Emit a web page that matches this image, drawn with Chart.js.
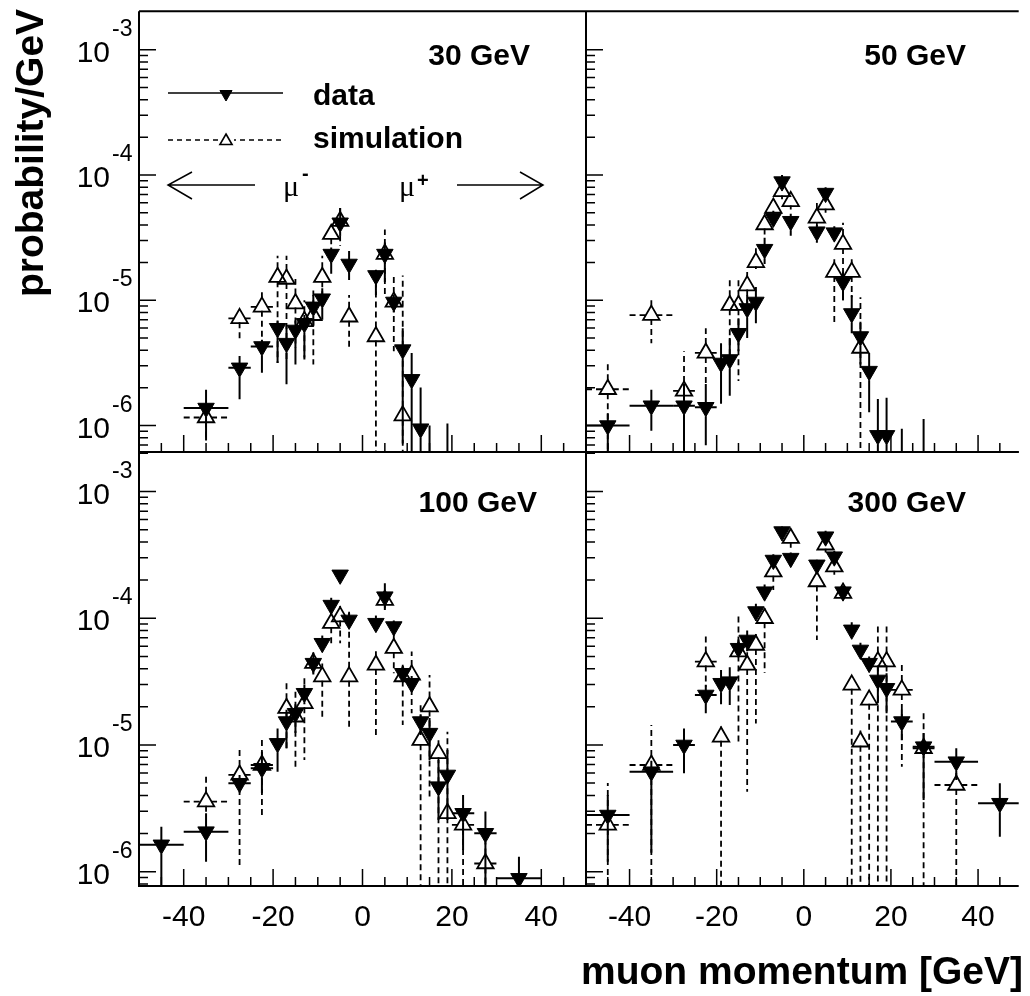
<!DOCTYPE html>
<html>
<head>
<meta charset="utf-8">
<script src="https://cdn.jsdelivr.net/npm/chart.js@4.4.1/dist/chart.umd.min.js"></script>
<style>
  html, body { margin: 0; padding: 0; background: #fff; }
  #page { position: relative; width: 1030px; height: 996px; overflow: hidden; background: #fff; }
  #page canvas { position: absolute; left: 0; top: 0; }
</style>
</head>
<body>
<div id="page">
  <canvas id="c30" width="1030" height="996"></canvas>
  <canvas id="c50" width="1030" height="996"></canvas>
  <canvas id="c100" width="1030" height="996"></canvas>
  <canvas id="c300" width="1030" height="996"></canvas>
</div>
<script>
// ===== Data (x = bin centre in GeV, y = probability/GeV) =====

// 30 GeV
const xD30  = [-35, -27.5, -22.5, -19, -17, -15, -13, -11, -9, -7, -5, -3, 3, 5, 7, 9, 11, 13, 15, 19];
const yD30  = [1.38e-6, 2.89e-6, 4.28e-6, 5.98e-6, 4.55e-6, 5.8e-6, 6.55e-6, 8.87e-6, 1.03e-5, 2.34e-5, 4.16e-5, 1.95e-5, 1.58e-5, 2.34e-5, 9.7e-6, 4.04e-6, 2.34e-6, 9.44e-7, 3e-7, 3e-7];
const exD30 = [5, 2.5, 2.5, 1, 1, 1, 1, 1, 1, 1, 1, 1, 1, 1, 1, 1, 1, 1, 1, 1];
const loD30 = [7.6e-7, 1.62e-6, 2.64e-6, 3.16e-6, 2.14e-6, 3.07e-6, 3.37e-6, 6.2e-6, 7.0e-6, 1.63e-5, 3.27e-5, 1.45e-5, 1.1e-5, 1.4e-5, 8.0e-6, 7.2e-7, 5e-7, 1e-7, 1e-7, 1e-7];
const hiD30 = [1.93e-6, 3.6e-6, 4.84e-6, 6.9e-6, 6.35e-6, 6.9e-6, 7.62e-6, 1.1e-5, 1.25e-5, 2.64e-5, 5.46e-5, 2.48e-5, 1.75e-5, 2.9e-5, 1.1e-5, 5.98e-6, 3.8e-6, 2.01e-6, 1.0e-6, 1.04e-6];

const xS30  = [-35, -27.5, -22.5, -19, -17, -15, -13, -11, -9, -7, -5, -3, 3, 5, 7, 9];
const yS30  = [1.16e-6, 7.18e-6, 8.87e-6, 1.53e-5, 1.48e-5, 9.42e-6, 6.8e-6, 7.6e-6, 1.53e-5, 3.37e-5, 4.28e-5, 7.39e-6, 5.14e-6, 2.34e-5, 9.7e-6, 1.2e-6];
const exS30 = [5, 2.5, 2.5, 1, 1, 1, 1, 1, 1, 1, 1, 1, 1, 1, 1, 1];
const loS30 = [7.6e-7, 4.7e-6, 3.92e-6, 3.16e-6, 3.27e-6, 4.16e-6, 3.5e-6, 3.07e-6, 1.0e-5, 2.6e-5, 2.72e-5, 4.16e-6, 1e-7, 1.1e-5, 3.92e-6, 1e-7];
const hiS30 = [1.5e-6, 8.5e-6, 1.16e-5, 2.27e-5, 2.27e-5, 1.48e-5, 1.0e-5, 1.2e-5, 2.27e-5, 3.9e-5, 5.46e-5, 1.1e-5, 1.4e-5, 3.68e-5, 1.63e-5, 1.58e-5];

// 50 GeV
const xD50  = [-45, -35, -27.5, -22.5, -19, -17, -15, -13, -11, -9, -7, -5, -3, 3, 5, 7, 9, 11, 13, 15, 17, 19, 22.5, 27.5];
const yD50  = [1.0e-6, 1.44e-6, 1.44e-6, 1.4e-6, 3.16e-6, 3.37e-6, 5.46e-6, 8.61e-6, 9.7e-6, 2.56e-5, 4.55e-5, 8.87e-5, 4.28e-5, 3.53e-5, 7.18e-5, 3.47e-5, 1.4e-5, 7.85e-6, 5.14e-6, 2.72e-6, 8.35e-7, 8.35e-7, 3e-7, 4e-7];
const exD50 = [5, 5, 2.5, 2.5, 1, 1, 1, 1, 1, 1, 1, 1, 1, 1, 1, 1, 1, 1, 1, 1, 1, 1, 2.5, 2.5];
const loD50 = [1e-7, 9.1e-7, 1e-7, 6.97e-7, 1.49e-6, 1.73e-6, 3.92e-6, 4.99e-6, 6.55e-6, 1.95e-5, 3.9e-5, 7.7e-5, 3.27e-5, 2.88e-5, 6.4e-5, 3.0e-5, 1.0e-5, 5.46e-6, 3.07e-6, 1.28e-6, 1e-7, 1e-7, 1e-7, 1e-7];
const hiD50 = [1.25e-6, 1.93e-6, 2.15e-6, 2.15e-6, 4.55e-6, 4.99e-6, 7.18e-6, 1.1e-5, 1.28e-5, 3.16e-5, 5.2e-5, 1.0e-4, 4.9e-5, 4.0e-5, 8.0e-5, 3.9e-5, 1.7e-5, 1.1e-5, 6.74e-6, 3.8e-6, 1.63e-6, 1.67e-6, 9.44e-7, 1.13e-6];

const xS50  = [-45, -35, -27.5, -22.5, -17, -15, -13, -11, -9, -7, -5, -3, 3, 5, 7, 9, 11, 13];
const yS50  = [1.95e-6, 7.62e-6, 1.89e-6, 3.8e-6, 9.14e-6, 9.14e-6, 1.31e-5, 2.01e-5, 4.03e-5, 5.46e-5, 7.4e-5, 6.16e-5, 4.55e-5, 5.8e-5, 1.68e-5, 2.81e-5, 1.68e-5, 4.16e-6];
const exS50 = [5, 5, 2.5, 2.5, 1, 1, 1, 1, 1, 1, 1, 1, 1, 1, 1, 1, 1, 1];
const loS50 = [1e-7, 4.55e-6, 1e-7, 2.15e-6, 3.5e-6, 2.27e-6, 9e-6, 1.78e-5, 3.3e-5, 4.8e-5, 6.4e-5, 5.3e-5, 3.9e-5, 5e-5, 6.55e-6, 1.0e-5, 1.06e-5, 1e-7];
const hiS50 = [3.16e-6, 1.0e-5, 3.92e-6, 5.98e-6, 1.48e-5, 1.48e-5, 1.68e-5, 2.6e-5, 4.8e-5, 6.2e-5, 8.5e-5, 7e-5, 5.98e-5, 6.7e-5, 2.13e-5, 4.16e-5, 2.13e-5, 1.06e-5];

// 100 GeV
const xD100  = [-45, -35, -27.5, -22.5, -19, -17, -15, -13, -11, -9, -7, -5, -3, 3, 5, 7, 9, 11, 13, 15, 17, 19, 22.5, 27.5, 35];
const yD100  = [1.63e-6, 2.07e-6, 4.99e-6, 6.55e-6, 1.03e-5, 1.53e-5, 1.78e-5, 2.56e-5, 4.42e-5, 6.35e-5, 1.27e-4, 2.2e-4, 9.7e-5, 9.14e-5, 1.48e-4, 8.6e-5, 3.68e-5, 3.07e-5, 1.53e-5, 1.24e-5, 4.69e-6, 5.8e-6, 2.89e-6, 2.01e-6, 8.87e-7];
const exD100 = [5, 5, 2.5, 2.5, 1, 1, 1, 1, 1, 1, 1, 1, 1, 1, 1, 1, 1, 1, 1, 1, 1, 1, 2.5, 2.5, 5];
const loD100 = [1e-7, 1.2e-6, 4.2e-6, 4.16e-6, 6.15e-6, 9.42e-6, 1.24e-5, 2.1e-5, 3.6e-5, 5.4e-5, 1.1e-4, 1.95e-4, 8.5e-5, 8e-5, 1.16e-4, 7.6e-5, 3.2e-5, 2.7e-5, 1.2e-5, 7.62e-6, 2.56e-6, 2.56e-6, 1.48e-6, 1e-7, 1e-7];
const hiD100 = [2.26e-6, 2.89e-6, 5.8e-6, 8.85e-6, 1.35e-5, 1.9e-5, 2.1e-5, 3.0e-5, 5.3e-5, 7.3e-5, 1.45e-4, 2.4e-4, 1.1e-4, 1.05e-4, 1.89e-4, 9.6e-5, 4.2e-5, 3.5e-5, 1.75e-5, 1.63e-5, 7.62e-6, 9.14e-6, 4.03e-6, 2.98e-6, 1.31e-6];

const xS100  = [-35, -27.5, -22.5, -17, -15, -13, -11, -9, -7, -5, -3, 3, 5, 7, 9, 11, 13, 15, 17, 19, 22.5, 27.5];
const yS100  = [3.57e-6, 5.8e-6, 6.95e-6, 1.95e-5, 1.67e-5, 2.13e-5, 4.42e-5, 3.46e-5, 9.14e-5, 1.03e-4, 3.46e-5, 4.28e-5, 1.39e-4, 5.8e-5, 3.47e-5, 3.57e-5, 1.09e-5, 2.01e-5, 8.59e-6, 2.89e-6, 2.34e-6, 1.16e-6];
const exS100 = [5, 2.5, 2.5, 1, 1, 1, 1, 1, 1, 1, 1, 1, 1, 1, 1, 1, 1, 1, 1, 1, 2.5, 2.5];
const loS100 = [2.9e-6, 1.1e-6, 2.62e-6, 9.14e-6, 6.55e-6, 7.62e-6, 3.6e-5, 1.67e-5, 5.97e-5, 6.35e-5, 1.31e-5, 1.2e-5, 1.2e-4, 3.68e-5, 1.44e-5, 1.78e-5, 1e-7, 3.92e-6, 1e-7, 1e-7, 1e-7, 1e-7];
const hiS100 = [5.8e-6, 9.7e-6, 1.13e-5, 3.07e-5, 2.72e-5, 3.46e-5, 5.4e-5, 4.4e-5, 1.1e-4, 1.25e-4, 1.13e-4, 5.5e-5, 1.6e-4, 9.7e-5, 4.3e-5, 5.46e-5, 2.13e-5, 3.57e-5, 1.09e-5, 1.27e-5, 2.7e-6, 1.72e-6];

// 300 GeV
const xD300  = [-45, -35, -27.5, -22.5, -19, -17, -15, -13, -11, -9, -7, -5, -3, 3, 5, 7, 9, 11, 13, 15, 17, 19, 22.5, 27.5, 35, 45];
const yD300  = [2.8e-6, 6.15e-6, 1.0e-5, 2.48e-5, 3.07e-5, 3.16e-5, 5.8e-5, 6.74e-5, 1.13e-4, 1.62e-4, 2.88e-4, 4.83e-4, 2.98e-4, 2.64e-4, 4.4e-4, 3.06e-4, 1.62e-4, 8.1e-5, 5.62e-5, 4.42e-5, 3.26e-5, 2.8e-5, 1.53e-5, 9.7e-6, 7.38e-6, 3.47e-6];
const exD300 = [5, 5, 2.5, 2.5, 1, 1, 1, 1, 1, 1, 1, 1, 1, 1, 1, 1, 1, 1, 1, 1, 1, 1, 2.5, 2.5, 5, 5];
const loD300 = [1.2e-6, 1.41e-6, 5.98e-6, 1.78e-5, 2.1e-5, 2.07e-5, 4.9e-5, 5.5e-5, 9.5e-5, 1.4e-4, 2.6e-4, 4.4e-4, 2.7e-4, 2.4e-4, 4.0e-4, 2.8e-4, 1.45e-4, 7e-5, 4.9e-5, 3.9e-5, 2.13e-5, 1.78e-5, 1.09e-5, 3.68e-6, 5.3e-6, 1.89e-6];
const hiD300 = [4.03e-6, 7.5e-6, 1.35e-5, 2.98e-5, 3.91e-5, 4.1e-5, 6.8e-5, 8e-5, 1.3e-4, 1.85e-4, 3.2e-4, 5.3e-4, 3.3e-4, 2.9e-4, 4.9e-4, 3.4e-4, 1.8e-4, 9.3e-5, 6.4e-5, 5e-5, 4.15e-5, 3.68e-5, 1.9e-5, 1.24e-5, 9.42e-6, 4.99e-6];

const xS300  = [-45, -35, -22.5, -19, -15, -13, -11, -9, -7, -3, 3, 5, 7, 9, 11, 13, 15, 17, 19, 22.5, 27.5, 35];
const yS300  = [2.34e-6, 6.95e-6, 4.55e-5, 1.16e-5, 5.46e-5, 4.28e-5, 6.15e-5, 1.0e-4, 2.33e-4, 4.28e-4, 1.95e-4, 3.8e-4, 2.55e-4, 1.58e-4, 2.98e-5, 1.06e-5, 2.27e-5, 4.55e-5, 4.55e-5, 2.72e-5, 9.42e-6, 4.83e-6];
const exS300 = [5, 5, 2.5, 1, 1, 1, 1, 1, 1, 1, 1, 1, 1, 1, 1, 1, 1, 1, 1, 2.5, 2.5, 5];
const loS300 = [1e-7, 1e-7, 2.88e-5, 1e-7, 1.06e-5, 4.28e-6, 1.48e-5, 3.7e-5, 1.67e-4, 3.6e-4, 6.74e-5, 3.3e-4, 2.2e-4, 1.4e-4, 1e-7, 1e-7, 1e-7, 1e-7, 1e-7, 6.74e-6, 1e-7, 1e-7];
const hiS300 = [5e-6, 1.44e-5, 7.4e-5, 1.4e-5, 1.03e-4, 5.4e-5, 7.5e-5, 1.2e-4, 2.7e-4, 4.9e-4, 2.3e-4, 4.3e-4, 2.9e-4, 1.8e-4, 3.5e-5, 1.3e-5, 2.7e-5, 9.14e-5, 9.14e-5, 4.42e-5, 1.89e-5, 6e-6];

// ===== Axis ticks and labels =====
const xTickValues = [-45, -40, -35, -30, -25, -20, -15, -10, -5, 0, 5, 10, 15, 20, 25, 30, 35, 40, 45];
const xLabelValues = [-40, -20, 0, 20, 40];
const xLabelText = ['-40', '-20', '0', '20', '40'];
const yLabelValues = [1e-3, 1e-4, 1e-5, 1e-6];
const yLabelExp = ['-3', '-4', '-5', '-6'];
const energyLabels = ['30 GeV', '50 GeV', '100 GeV', '300 GeV'];

const FONT = "'Liberation Sans', Arial, Helvetica, sans-serif";

// ===== Error bars (drawn under the markers, with a gap round the marker) =====
const errorBars = {
  id: 'errorBars',
  beforeDatasetsDraw(chart) {
    const ctx = chart.ctx, a = chart.chartArea;
    const xs = chart.scales.x, ys = chart.scales.y;
    ctx.save();
    ctx.beginPath();
    ctx.rect(a.left, a.top, a.right - a.left, a.bottom - a.top);
    ctx.clip();
    chart.data.datasets.forEach(ds => {
      ctx.strokeStyle = '#000';
      ctx.lineWidth = ds.errWidth;
      ctx.setLineDash(ds.errDash);
      const g = ds.gap;
      ds.data.forEach((p, i) => {
        const px = xs.getPixelForValue(p.x);
        const py = ys.getPixelForValue(p.y);
        const x0 = xs.getPixelForValue(p.x - ds.xErr[i]);
        const x1 = xs.getPixelForValue(p.x + ds.xErr[i]);
        const yHi = ys.getPixelForValue(ds.yHi[i]);
        const yLo = ys.getPixelForValue(ds.yLo[i]);
        ctx.beginPath();
        if (x0 < px - g.x) { ctx.moveTo(x0, py); ctx.lineTo(px - g.x, py); }
        if (x1 > px + g.x) { ctx.moveTo(px + g.x, py); ctx.lineTo(x1, py); }
        if (yHi < py - g.up) { ctx.moveTo(px, py - g.up); ctx.lineTo(px, yHi); }
        if (yLo > py + g.down) { ctx.moveTo(px, py + g.down); ctx.lineTo(px, yLo); }
        ctx.stroke();
      });
    });
    ctx.restore();
  }
};

function drawMarker(ctx, filled, x, y, r) {
  ctx.save();
  ctx.fillStyle = filled ? '#000' : 'rgba(0,0,0,0)';
  ctx.strokeStyle = '#000';
  ctx.lineWidth = filled ? 1 : 1.6;
  Chart.helpers.drawPoint(ctx, {
    pointStyle: 'triangle', rotation: filled ? 180 : 0, radius: r, borderWidth: ctx.lineWidth
  }, x, y);
  ctx.restore();
}

// ===== Frame, ticks, labels =====
function makeAxes(p) {
  return {
    id: 'axes',
    afterDraw(chart) {
      const ctx = chart.ctx, a = chart.chartArea;
      const xs = chart.scales.x, ys = chart.scales.y;
      ctx.save();
      ctx.strokeStyle = '#000';
      ctx.fillStyle = '#000';
      ctx.setLineDash([]);

      // ticks
      ctx.lineWidth = 1.5;
      ctx.beginPath();
      xTickValues.forEach(v => {
        const px = xs.getPixelForValue(v);
        if (px <= a.left + 1 || px >= a.right - 1) return;
        const len = xLabelValues.includes(v) ? 17 : 9;
        ctx.moveTo(px, a.bottom);
        ctx.lineTo(px, a.bottom - len);
      });
      for (let e = -7; e <= -2; e++) {
        for (let m = 1; m <= 9; m++) {
          const py = ys.getPixelForValue(m * Math.pow(10, e));
          if (py <= a.top + 1 || py >= a.bottom - 1) continue;
          ctx.moveTo(a.left, py);
          ctx.lineTo(a.left + (m === 1 ? 17 : 9), py);
        }
      }
      ctx.stroke();

      // frame
      ctx.lineWidth = 2;
      ctx.beginPath();
      ctx.moveTo(a.left, a.top);
      ctx.lineTo(a.left, a.bottom);
      ctx.lineTo(a.right, a.bottom);
      ctx.moveTo(a.left, a.top);
      ctx.lineTo(a.right, a.top);
      if (p.rightLine) {
        ctx.moveTo(a.right, a.top);
        ctx.lineTo(a.right, a.bottom);
      }
      ctx.stroke();

      // y labels 10^n
      if (p.yLabels) {
        yLabelValues.forEach((v, i) => {
          const py = ys.getPixelForValue(v);
          ctx.textBaseline = 'alphabetic';
          ctx.textAlign = 'right';
          ctx.font = '30px ' + FONT;
          ctx.fillText('10', 110, py + 12);
          ctx.textAlign = 'left';
          ctx.font = '23px ' + FONT;
          ctx.fillText(yLabelExp[i], 112, py - 14);
        });
      }

      // x labels
      if (p.xLabels) {
        ctx.textAlign = 'center';
        ctx.textBaseline = 'alphabetic';
        ctx.font = '30px ' + FONT;
        xLabelValues.forEach((v, i) => {
          ctx.fillText(xLabelText[i], xs.getPixelForValue(v), 926);
        });
      }

      // energy label
      ctx.textAlign = 'right';
      ctx.textBaseline = 'alphabetic';
      ctx.font = 'bold 30px ' + FONT;
      ctx.fillText(p.label, p.labelX, p.labelY);

      if (p.extras) {
        // legend
        ctx.lineWidth = 1.5;
        ctx.beginPath();
        ctx.moveTo(168, 93); ctx.lineTo(283, 93);
        ctx.stroke();
        ctx.setLineDash([5, 4]);
        ctx.beginPath();
        ctx.moveTo(168, 140); ctx.lineTo(283, 140);
        ctx.stroke();
        ctx.setLineDash([]);
        ctx.fillStyle = '#fff';
        ctx.fillRect(219, 132, 15, 15);
        ctx.fillStyle = '#000';
        drawMarker(ctx, true, 226, 94, 7);
        drawMarker(ctx, false, 226, 141, 7);
        ctx.textAlign = 'left';
        ctx.font = 'bold 30px ' + FONT;
        ctx.fillText('data', 313, 105);
        ctx.fillText('simulation', 313, 148);

        // charge arrows
        ctx.lineWidth = 1.5;
        ctx.beginPath();
        ctx.moveTo(255, 185); ctx.lineTo(168, 185);
        ctx.moveTo(192, 172); ctx.lineTo(168, 185); ctx.lineTo(192, 199);
        ctx.moveTo(457, 185); ctx.lineTo(543, 185);
        ctx.moveTo(520, 172); ctx.lineTo(543, 185); ctx.lineTo(520, 199);
        ctx.stroke();
        ctx.font = "30px 'Liberation Serif', 'DejaVu Serif', serif";
        ctx.fillText('\u03bc', 283, 196);
        ctx.fillText('\u03bc', 399, 196);
        ctx.font = 'bold 20px ' + FONT;
        ctx.fillText('-', 302, 180);
        ctx.fillText('+', 417, 187);

        // axis titles
        ctx.font = 'bold 39px ' + FONT;
        ctx.textAlign = 'right';
        ctx.fillText('muon momentum [GeV]', 1023, 984);
        ctx.save();
        ctx.translate(43, 153);
        ctx.rotate(-Math.PI / 2);
        ctx.textAlign = 'center';
        ctx.fillText('probability/GeV', 0, 0);
        ctx.restore();
      }
      ctx.restore();
    }
  };
}

// ===== Panels =====
function panel(p) {
  const toPts = (xa, ya) => xa.map((x, i) => ({ x: x, y: ya[i] }));
  return new Chart(document.getElementById(p.id), {
    type: 'scatter',
    data: {
      datasets: [
        {
          label: 'data',
          data: toPts(p.xD, p.yD),
          xErr: p.exD, yLo: p.loD, yHi: p.hiD,
          errWidth: 2, errDash: [], gap: { x: 5, up: 4, down: 9 },
          pointStyle: 'triangle', rotation: 180, pointRadius: 9.5,
          backgroundColor: '#000', borderColor: '#000', borderWidth: 1,
          clip: 0
        },
        {
          label: 'simulation',
          data: toPts(p.xS, p.yS),
          xErr: p.exS, yLo: p.loS, yHi: p.hiS,
          errWidth: 1.8, errDash: [6, 4], gap: { x: 5, up: 9, down: 4 },
          pointStyle: 'triangle', rotation: 0, pointRadius: 9.5,
          backgroundColor: 'rgba(0,0,0,0)', borderColor: '#000', borderWidth: 1.8,
          clip: 0
        }
      ]
    },
    options: {
      responsive: false,
      animation: false,
      events: [],
      layout: { padding: p.pad },
      plugins: { legend: { display: false }, tooltip: { enabled: false } },
      scales: {
        x: { type: 'linear', display: false, min: -50, max: p.xMax, bounds: 'data' },
        y: { type: 'logarithmic', display: false, min: p.yMin, max: p.yMax, bounds: 'data' }
      }
    },
    plugins: [errorBars, makeAxes(p)]
  });
}

panel({ id: 'c30', label: energyLabels[0], labelX: 530, labelY: 65,
  pad: { left: 139, top: 6, right: 444, bottom: 544 }, xMax: 50, yMin: 6.15e-7, yMax: 2.03e-3,
  yLabels: true, xLabels: false, rightLine: true, extras: true,
  xD: xD30, yD: yD30, exD: exD30, loD: loD30, hiD: hiD30,
  xS: xS30, yS: yS30, exS: exS30, loS: loS30, hiS: hiS30 });

panel({ id: 'c50', label: energyLabels[1], labelX: 966, labelY: 65,
  pad: { left: 586, top: 6, right: 0, bottom: 544 }, xMax: 49.33, yMin: 6.15e-7, yMax: 2.03e-3,
  yLabels: false, xLabels: false, rightLine: false, extras: false,
  xD: xD50, yD: yD50, exD: exD50, loD: loD50, hiD: hiD50,
  xS: xS50, yS: yS50, exS: exS50, loS: loS50, hiS: hiS50 });

panel({ id: 'c100', label: energyLabels[2], labelX: 537, labelY: 512,
  pad: { left: 139, top: 452, right: 444, bottom: 110 }, xMax: 50, yMin: 7.71e-7, yMax: 2.05e-3,
  yLabels: true, xLabels: true, rightLine: true, extras: false,
  xD: xD100, yD: yD100, exD: exD100, loD: loD100, hiD: hiD100,
  xS: xS100, yS: yS100, exS: exS100, loS: loS100, hiS: hiS100 });

panel({ id: 'c300', label: energyLabels[3], labelX: 966, labelY: 512,
  pad: { left: 586, top: 452, right: 0, bottom: 110 }, xMax: 49.33, yMin: 7.71e-7, yMax: 2.05e-3,
  yLabels: false, xLabels: true, rightLine: false, extras: false,
  xD: xD300, yD: yD300, exD: exD300, loD: loD300, hiD: hiD300,
  xS: xS300, yS: yS300, exS: exS300, loS: loS300, hiS: hiS300 });
</script>
</body>
</html>
